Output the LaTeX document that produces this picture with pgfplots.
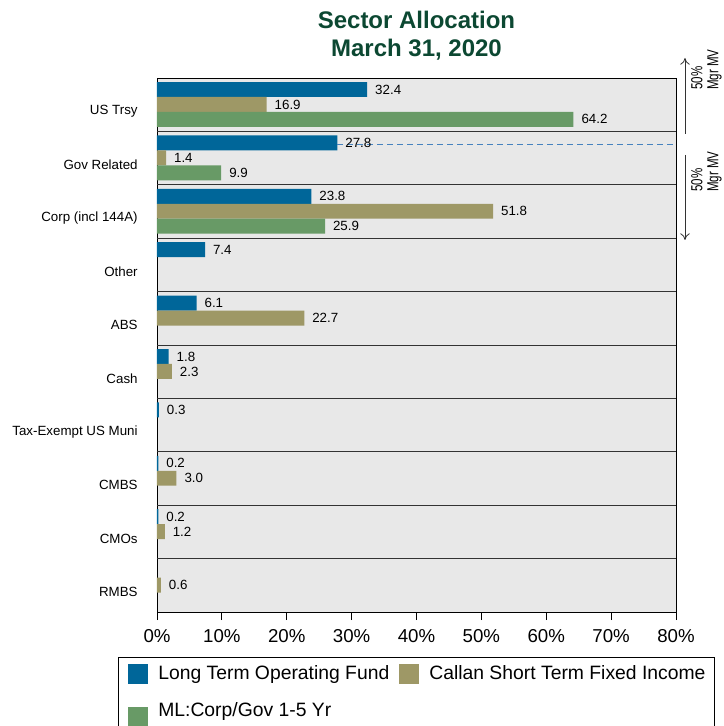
\documentclass[border=0pt]{standalone}
\usepackage{fontspec}
\setmainfont{Liberation Sans}
\usepackage{pgfplots}
\pgfplotsset{compat=1.18}
\usetikzlibrary{arrows.meta}

\definecolor{ltof}{RGB}{0,102,153}
\definecolor{callan}{RGB}{158,152,102}
\definecolor{mlcg}{RGB}{104,154,102}
\definecolor{panel}{RGB}{232,232,232}
\definecolor{titlegreen}{RGB}{12,72,50}
\definecolor{dashblue}{RGB}{70,130,190}

\pgfplotsset{
  sq legend/.style={legend image code/.code={
      \fill[##1] (0pt,-7.5pt) rectangle (15pt,7.5pt);
      \path (-2.75pt,0pt) (20.5pt,0pt);}},
}

\begin{document}
\begin{tikzpicture}
\begin{axis}[
  at={(0pt,0pt)}, anchor=south west,
  scale only axis,
  width=389.25pt, height=400.5pt,
  xbar, bar shift=0pt, bar width=0.28,
  xmin=0, xmax=80, ymin=0, ymax=10, y dir=reverse,
  axis background/.style={fill=panel},
  axis line style={black, line width=0.6pt},
  xtick={0,10,...,80},
  xtick pos=left, xtick align=outside, major tick length=6pt,
  xtick style={black, line width=0.6pt},
  xticklabel={\pgfmathprintnumber{\tick}\%},
  xticklabel style={font=\fontsize{14}{16}\selectfont, yshift=-3.75pt},
  /pgf/number format/assume math mode=true,
  ytick={0.626,1.626,2.626,3.626,4.626,5.626,6.626,7.626,8.626,9.626},
  yticklabels={US Trsy, Gov Related, Corp (incl 144A), Other, ABS, Cash,
    Tax-Exempt US Muni, CMBS, CMOs, RMBS},
  ytick style={draw=none},
  yticklabel style={font=\fontsize{10}{12}\selectfont, xshift=-5pt},
  extra y ticks={1,2,3,4,5,6,7,8,9},
  extra y tick labels={},
  extra y tick style={grid=major, major grid style={black!80, line width=0.6pt}},
  point meta=x,
  every node near coord/.style={anchor=west, xshift=2.5pt,
    font=\fontsize{10}{12}\selectfont, black},
  every axis title/.style={at={(0.5,1)}, anchor=south, yshift=13pt,
    inner sep=0pt, align=center, color=titlegreen,
    font=\bfseries\fontsize{18}{21}\selectfont},
  title={Sector Allocation\\March 31, 2020},
  legend columns=2,
  legend cell align=left,
  legend style={at={(axis description cs:-0.0751,-0.0843)}, anchor=north west,
    draw=black, fill=white, font=\fontsize{14.5}{16}\selectfont,
    inner xsep=4.75pt, inner ysep=2.75pt, row sep=8.5pt,
    nodes={inner sep=2pt, text height=12.25pt, text depth=3pt},
    /tikz/every even column/.append style={column sep=2.75pt}},
]
\addplot[fill=ltof, draw=none, sq legend,
  nodes near coords={\pgfmathprintnumber[fixed,fixed zerofill,precision=1]{\pgfplotspointmeta}}]
  coordinates {(32.4,0.215) (27.8,1.215) (23.8,2.215) (7.4,3.215) (6.1,4.215)
    (1.8,5.215) (0.3,6.215) (0.2,7.215) (0.2,8.215)};
\addlegendentry{Long Term Operating Fund}
\addplot[fill=callan, draw=none, sq legend,
  nodes near coords={\pgfmathprintnumber[fixed,fixed zerofill,precision=1]{\pgfplotspointmeta}}]
  coordinates {(16.9,0.495) (1.4,1.495) (51.8,2.495) (22.7,4.495)
    (2.3,5.495) (3.0,7.495) (1.2,8.495) (0.6,9.495)};
\addlegendentry{Callan Short Term Fixed Income}
\addplot[fill=mlcg, draw=none, sq legend,
  nodes near coords={\pgfmathprintnumber[fixed,fixed zerofill,precision=1]{\pgfplotspointmeta}}]
  coordinates {(64.2,0.775) (9.9,1.775) (25.9,2.775)};
\addlegendentry[text depth=12pt]{ML:Corp/Gov 1-5 Yr}
\addplot[sharp plot, forget plot, no marks, color=dashblue, line width=0.8pt,
  dash pattern=on 4.5pt off 3pt]
  coordinates {(27.8,1.25) (80,1.25)};
\end{axis}
\draw[line width=0.6pt, black!80, -{To[length=5pt,width=7pt]}] (396pt,358.5pt) -- (396pt,415.5pt);
\draw[line width=0.6pt, black!80, -{To[length=5pt,width=7pt]}] (396pt,342.75pt) -- (396pt,279pt);
\node[rotate=90, anchor=north west, align=left, inner sep=0pt,
  font=\fontsize{12}{12}\selectfont] at (400.5pt,391.5pt)
  {\scalebox{0.72}[1]{50\%}\\\scalebox{0.72}[1]{Mgr MV}};
\node[rotate=90, anchor=north west, align=left, inner sep=0pt,
  font=\fontsize{12}{12}\selectfont] at (400.5pt,315pt)
  {\scalebox{0.72}[1]{50\%}\\\scalebox{0.72}[1]{Mgr MV}};
\pgfresetboundingbox
\useasboundingbox (-117.75pt,-85.5pt) rectangle (425.25pt,459pt);
\end{tikzpicture}
\end{document}
